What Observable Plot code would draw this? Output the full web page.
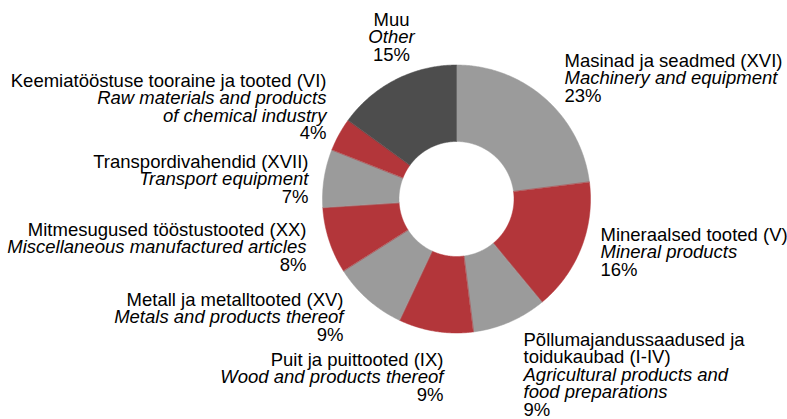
<!DOCTYPE html>
<html><head><meta charset="utf-8">
<script src="https://cdn.jsdelivr.net/npm/d3@7"></script>
<script src="https://cdn.jsdelivr.net/npm/@observablehq/plot@0.6"></script>
<style>html,body{margin:0;padding:0;background:#fff} svg{display:block}</style>
</head><body><div id="chart"></div>
<script>
// ---- data ----
const namesEt = [
  ["Masinad ja seadmed (XVI)"],
  ["Mineraalsed tooted (V)"],
  ["Põllumajandussaadused ja", "toidukaubad (I-IV)"],
  ["Puit ja puittooted (IX)"],
  ["Metall ja metalltooted (XV)"],
  ["Mitmesugused tööstustooted (XX)"],
  ["Transpordivahendid (XVII)"],
  ["Keemiatööstuse tooraine ja tooted (VI)"],
  ["Muu"]
];
const namesEn = [
  ["Machinery and equipment"],
  ["Mineral products"],
  ["Agricultural products and", "food preparations"],
  ["Wood and products thereof"],
  ["Metals and products thereof"],
  ["Miscellaneous manufactured articles"],
  ["Transport equipment"],
  ["Raw materials and products", "of chemical industry"],
  ["Other"]
];
const shares = [23, 16, 9, 9, 9, 8, 7, 4, 15];
const groups = ["light", "red", "light", "red", "light", "red", "light", "red", "dark"];

// ---- layout (pixels) ----
const W = 787, H = 419;
const cx = 456, cy = 198.5, rOuter = 134, rInner = 57.5;
const lineH = 17.6, fontSize = 18.5;
const labelLayout = [
  {x: 564, y: 66, anchor: "start"},
  {x: 600, y: 240, anchor: "start"},
  {x: 523, y: 345, anchor: "start"},
  {x: 443, y: 365, anchor: "end"},
  {x: 343, y: 305, anchor: "end"},
  {x: 306, y: 235, anchor: "end"},
  {x: 308, y: 167, anchor: "end"},
  {x: 326, y: 86, anchor: "end"},
  {x: 391, y: 25, anchor: "middle"}
];

// ---- slice polygons from the data ----
const arcs = d3.pie().sort(null).value(d => d)(shares);
const pts = [];
arcs.forEach((a, i) => {
  const n = Math.max(2, Math.ceil((a.endAngle - a.startAngle) / (Math.PI / 360)));
  for (let k = 0; k <= n; k++) {
    const t = a.startAngle + (a.endAngle - a.startAngle) * k / n;
    pts.push({slice: i, group: groups[i], x: cx + rOuter * Math.sin(t), y: cy - rOuter * Math.cos(t)});
  }
  for (let k = n; k >= 0; k--) {
    const t = a.startAngle + (a.endAngle - a.startAngle) * k / n;
    pts.push({slice: i, group: groups[i], x: cx + rInner * Math.sin(t), y: cy - rInner * Math.cos(t)});
  }
});

// ---- label lines ----
const lines = [];
shares.forEach((v, i) => {
  const L = labelLayout[i];
  let k = 0;
  namesEt[i].forEach(s => lines.push({text: s, italic: false, anchor: L.anchor, x: L.x, y: L.y + lineH * k++}));
  namesEn[i].forEach(s => lines.push({text: s, italic: true, anchor: L.anchor, x: L.x, y: L.y + lineH * k++}));
  lines.push({text: v + "%", italic: false, anchor: L.anchor, x: L.x, y: L.y + lineH * k++});
});

const textMarks = [];
for (const anchor of ["start", "middle", "end"]) {
  for (const italic of [false, true]) {
    const sub = lines.filter(d => d.anchor === anchor && d.italic === italic);
    if (!sub.length) continue;
    textMarks.push(Plot.text(sub, {
      x: "x", y: "y", text: "text", textAnchor: anchor, lineAnchor: "bottom",
      fontSize, fontStyle: italic ? "italic" : "normal", fill: "#000"
    }));
  }
}

const chart = Plot.plot({
  width: W, height: H, margin: 0,
  style: {fontFamily: "'Liberation Sans', Arial, sans-serif", background: "#fff"},
  x: {domain: [0, W], range: [0, W], axis: null},
  y: {domain: [0, H], range: [0, H], axis: null},
  color: {domain: ["light", "red", "dark"], range: ["#9b9b9b", "#b3363a", "#4d4d4d"]},
  marks: [
    Plot.line(pts, {x: "x", y: "y", z: "slice", fill: "group", stroke: "group", strokeWidth: 0.5, curve: "linear-closed"}),
    ...textMarks
  ]
});
document.getElementById("chart").appendChild(chart);
</script>
</body></html>
